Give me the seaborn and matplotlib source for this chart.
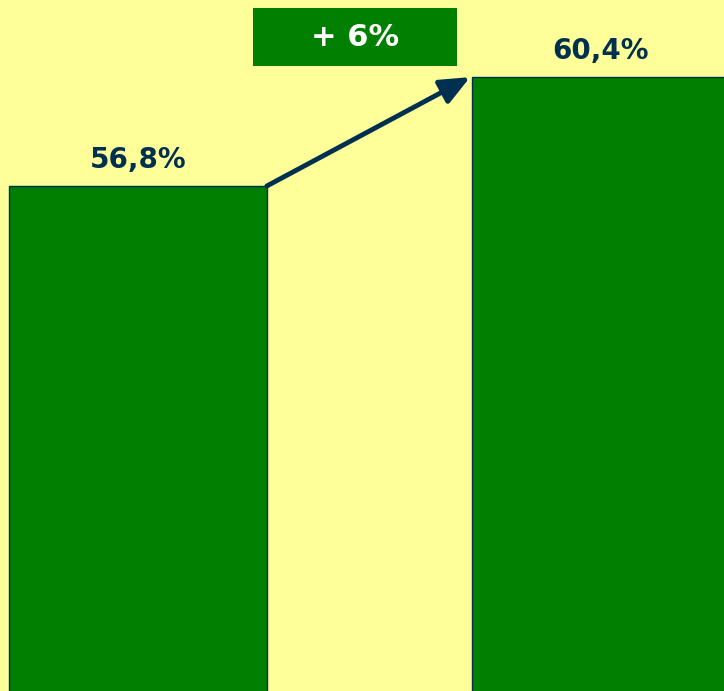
import matplotlib
matplotlib.use("Agg")
import matplotlib.pyplot as plt
import seaborn as sns
import pandas as pd
from matplotlib.patches import Rectangle

categories = ["A", "B"]
values = [56.8, 60.4]
labels = ["56,8%", "60,4%"]
change_label = "+ 6%"

BG = "#FFFF99"
GREEN = "#007F00"
NAVY = "#003050"

sns.set_theme(style="white")
plt.rcParams['font.family'] = ['DejaVu Sans']

df = pd.DataFrame({"cat": categories, "val": values})

fig = plt.figure(figsize=(7.24, 6.91), dpi=100, facecolor=BG)
ax = fig.add_axes([0, 0, 1, 1])
ax.set_facecolor(BG)

sns.barplot(data=df, x="cat", y="val", color=GREEN, width=0.557,
            edgecolor=NAVY, linewidth=1, saturation=1, ax=ax)

ax.set_xlim(-0.298, 1.266)
ax.set_ylim(40.1, 62.95)
for s in ax.spines.values():
    s.set_visible(False)
ax.set_xticks([]); ax.set_yticks([])
ax.set_xlabel(""); ax.set_ylabel("")

for i, (v, lab) in enumerate(zip(values, labels)):
    ax.annotate(lab, xy=(i, v), xytext=(0, 19), textcoords="offset points",
                ha="center", va="center", fontsize=20, fontweight="bold", color=NAVY)

w = 0.557
ax.annotate("", xy=(1 - w / 2 - 0.004, values[1]), xytext=(w / 2, values[0]),
            arrowprops=dict(arrowstyle="-|>,head_length=1.5,head_width=0.65",
                            color=NAVY, lw=3.5, shrinkA=0, shrinkB=0))

# change box
fig.patches.append(Rectangle((253 / 724, 1 - 66 / 691), 204 / 724, 58 / 691,
                             transform=fig.transFigure, facecolor=GREEN,
                             edgecolor="none", zorder=5))
fig.text(355 / 724, 1 - 38 / 691, change_label, ha="center", va="center",
         fontsize=22, fontweight="bold", color="white", zorder=6)

fig.savefig("out.png", dpi=100, facecolor=BG)
